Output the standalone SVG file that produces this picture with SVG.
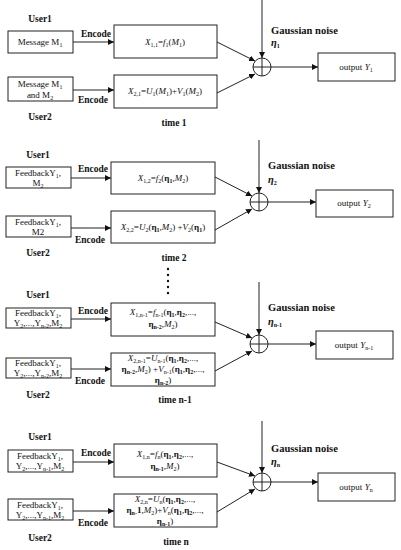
<svg xmlns="http://www.w3.org/2000/svg" width="401" height="550" viewBox="0 0 401 550">
<defs>
<marker id="ah" viewBox="0 0 10 10" refX="10" refY="5" markerWidth="6" markerHeight="6" orient="auto" markerUnits="userSpaceOnUse"><path d="M0,0 L10,5 L0,10 z" fill="#111"/></marker>
</defs>
<style>
.bx{fill:#fff;stroke:#222;stroke-width:1}
.ln{stroke:#222;stroke-width:1;fill:none;marker-end:url(#ah)}
.pl{stroke:#222;stroke-width:1;fill:none}
text{font-family:"Liberation Serif",serif;fill:#111}
.t{font-size:9px;text-anchor:middle}
.b{font-size:9.5px;font-weight:bold}
.u{font-size:9.5px;font-weight:bold;text-anchor:middle}
.g{font-size:10.5px;font-weight:bold}
.m{font-size:9px;text-anchor:middle}
.i{font-style:italic}
.e{font-weight:bold}
.s{font-size:6px;baseline-shift:-2px}
</style>
<rect width="401" height="550" fill="#fff"/>

<g id="connectors">
<line class="ln" x1="73" y1="42" x2="114" y2="42"/>
<line class="ln" x1="73" y1="90" x2="114" y2="90"/>
<line class="ln" x1="217" y1="42" x2="255" y2="61"/>
<line class="ln" x1="217" y1="93" x2="255" y2="74"/>
<line class="ln" x1="262" y1="0" x2="262" y2="58"/>
<line class="ln" x1="271" y1="67" x2="318" y2="67"/>
<line class="ln" x1="71" y1="178" x2="111" y2="178"/>
<line class="ln" x1="71" y1="228" x2="111" y2="228"/>
<line class="ln" x1="215" y1="177" x2="252" y2="196"/>
<line class="ln" x1="215" y1="230" x2="252" y2="209"/>
<line class="ln" x1="259" y1="140" x2="259" y2="193"/>
<line class="ln" x1="268" y1="202" x2="316" y2="202"/>
<line class="ln" x1="71" y1="319" x2="111" y2="319"/>
<line class="ln" x1="71" y1="369" x2="111" y2="369"/>
<line class="ln" x1="215" y1="322" x2="252" y2="338"/>
<line class="ln" x1="215" y1="371" x2="252" y2="351"/>
<line class="ln" x1="259" y1="282" x2="259" y2="335"/>
<line class="ln" x1="268" y1="344" x2="316" y2="344"/>
<line class="ln" x1="73" y1="462" x2="114" y2="462"/>
<line class="ln" x1="73" y1="511" x2="114" y2="511"/>
<line class="ln" x1="217" y1="462" x2="255" y2="476"/>
<line class="ln" x1="217" y1="512" x2="255" y2="489"/>
<line class="ln" x1="262" y1="421" x2="262" y2="473"/>
<line class="ln" x1="271" y1="482" x2="318" y2="482"/>
</g>

<g id="p1-user1">
<text class="u" x="40" y="22">User1</text>
<rect class="bx" x="8" y="31" width="65" height="22"/>
<text class="t" x="40" y="45">Message M<tspan class="s">1</tspan></text>
<text class="b" x="81" y="37">Encode</text>
</g>
<g id="p1-user2">
<rect class="bx" x="8" y="77" width="65" height="24"/>
<text class="t" x="40" y="87">Message M<tspan class="s">1</tspan></text>
<text class="t" x="40" y="98">and M<tspan class="s">2</tspan></text>
<text class="b" x="78" y="103">Encode</text>
<text class="u" x="40" y="120">User2</text>
</g>
<g id="p1-enc1">
<rect class="bx" x="114" y="25" width="103" height="33"/>
<text class="m" x="165" y="45"><tspan class="i">X</tspan><tspan class="s">1,1</tspan>=<tspan class="i">f</tspan><tspan class="s">1</tspan>(<tspan class="i">M</tspan><tspan class="s">1</tspan>)</text>
</g>
<g id="p1-enc2">
<rect class="bx" x="114" y="75" width="103" height="33"/>
<text class="m" x="165" y="94"><tspan class="i">X</tspan><tspan class="s">2,1</tspan>=<tspan class="i">U</tspan><tspan class="s">1</tspan>(<tspan class="i">M</tspan><tspan class="s">1</tspan>)+<tspan class="i">V</tspan><tspan class="s">1</tspan>(<tspan class="i">M</tspan><tspan class="s">2</tspan>)</text>
<text class="u" x="174" y="126">time 1</text>
</g>
<g id="p1-sum">
<circle cx="262" cy="67" r="9" fill="#fff" stroke="#222"/>
<line class="pl" x1="253" y1="67" x2="271" y2="67"/>
<line class="pl" x1="262" y1="58" x2="262" y2="76"/>
<text class="g" x="271" y="34">Gaussian noise</text>
<text class="g" x="271" y="46"><tspan class="i">η</tspan><tspan class="s">1</tspan></text>
</g>
<g id="p1-out">
<rect class="bx" x="318" y="53" width="77" height="28"/>
<text class="t" x="356" y="70">output <tspan class="i">Y</tspan><tspan class="s">1</tspan></text>
</g>

<g id="p2-user1">
<text class="u" x="38" y="158">User1</text>
<rect class="bx" x="6" y="167" width="65" height="21"/>
<text class="t" x="38" y="176">FeedbackY<tspan class="s">1</tspan>,</text>
<text class="t" x="38" y="186">M<tspan class="s">2</tspan></text>
<text class="b" x="78" y="172">Encode</text>
</g>
<g id="p2-user2">
<rect class="bx" x="6" y="216" width="65" height="21"/>
<text class="t" x="38" y="225">FeedbackY<tspan class="s">1</tspan>,</text>
<text class="t" x="38" y="235">M2</text>
<text class="b" x="75" y="243">Encode</text>
<text class="u" x="38" y="256">User2</text>
</g>
<g id="p2-enc1">
<rect class="bx" x="111" y="162" width="104" height="32"/>
<text class="m" x="163" y="181"><tspan class="i">X</tspan><tspan class="s">1,2</tspan>=<tspan class="i">f</tspan><tspan class="s">2</tspan>(<tspan class="e">η</tspan><tspan class="s e">1</tspan>,<tspan class="i">M</tspan><tspan class="s">2</tspan>)</text>
</g>
<g id="p2-enc2">
<rect class="bx" x="111" y="211" width="104" height="32"/>
<text class="m" x="163" y="230"><tspan class="i">X</tspan><tspan class="s">2,2</tspan>=<tspan class="i">U</tspan><tspan class="s">2</tspan>(<tspan class="e">η</tspan><tspan class="s e">1</tspan>,<tspan class="i">M</tspan><tspan class="s">2</tspan>) +<tspan class="i">V</tspan><tspan class="s">2</tspan>(<tspan class="e">η</tspan><tspan class="s e">1</tspan>)</text>
<text class="u" x="174" y="261">time 2</text>
</g>
<g id="p2-sum">
<circle cx="259" cy="202" r="9" fill="#fff" stroke="#222"/>
<line class="pl" x1="250" y1="202" x2="268" y2="202"/>
<line class="pl" x1="259" y1="193" x2="259" y2="211"/>
<text class="g" x="268" y="169">Gaussian noise</text>
<text class="g" x="268" y="183"><tspan class="i">η</tspan><tspan class="s">2</tspan></text>
</g>
<g id="p2-out">
<rect class="bx" x="316" y="190" width="77" height="27"/>
<text class="t" x="354" y="206">output <tspan class="i">Y</tspan><tspan class="s">2</tspan></text>
</g>

<g id="dots" fill="#111">
<circle cx="168" cy="269" r="1.2"/>
<circle cx="168" cy="275" r="1.2"/>
<circle cx="168" cy="281" r="1.2"/>
<circle cx="168" cy="287" r="1.2"/>
<circle cx="168" cy="293" r="1.2"/>
</g>

<g id="p3-user1">
<text class="u" x="38" y="298">User1</text>
<rect class="bx" x="6" y="308" width="65" height="20"/>
<text class="t" x="38" y="316">FeedbackY<tspan class="s">1</tspan>,</text>
<text class="t" x="38" y="326">Y<tspan class="s">2</tspan>,...,Y<tspan class="s">n-2</tspan>,M<tspan class="s">2</tspan></text>
<text class="b" x="78" y="314">Encode</text>
</g>
<g id="p3-user2">
<rect class="bx" x="6" y="358" width="65" height="20"/>
<text class="t" x="38" y="366">FeedbackY<tspan class="s">1</tspan>,</text>
<text class="t" x="38" y="376">Y<tspan class="s">2</tspan>,...,Y<tspan class="s">n-2</tspan>,M<tspan class="s">2</tspan></text>
<text class="b" x="75" y="384">Encode</text>
<text class="u" x="38" y="398">User2</text>
</g>
<g id="p3-enc1">
<rect class="bx" x="111" y="303" width="104" height="33"/>
<text class="m" x="163" y="315"><tspan class="i">X</tspan><tspan class="s">1,n-1</tspan>=<tspan class="i">f</tspan><tspan class="s">n-1</tspan>(<tspan class="e">η</tspan><tspan class="s e">1</tspan>,<tspan class="e">η</tspan><tspan class="s e">2</tspan>,...,</text>
<text class="m" x="163" y="327"><tspan class="e">η</tspan><tspan class="s e">n-2</tspan>,<tspan class="i">M</tspan><tspan class="s">2</tspan>)</text>
</g>
<g id="p3-enc2">
<rect class="bx" x="111" y="353" width="104" height="33"/>
<text class="m" x="163" y="361"><tspan class="i">X</tspan><tspan class="s">2,n-1</tspan>=<tspan class="i">U</tspan><tspan class="s">n-1</tspan>(<tspan class="e">η</tspan><tspan class="s e">1</tspan>,<tspan class="e">η</tspan><tspan class="s e">2</tspan>,...,</text>
<text class="m" x="163" y="372"><tspan class="e">η</tspan><tspan class="s e">n-2</tspan>,<tspan class="i">M</tspan><tspan class="s">2</tspan>) +<tspan class="i">V</tspan><tspan class="s">n-1</tspan>(<tspan class="e">η</tspan><tspan class="s e">1</tspan>,<tspan class="e">η</tspan><tspan class="s e">2</tspan>,...,</text>
<text class="m" x="163" y="383"><tspan class="e">η</tspan><tspan class="s e">n-2</tspan>)</text>
<text class="u" x="175" y="403">time n-1</text>
</g>
<g id="p3-sum">
<circle cx="259" cy="344" r="9" fill="#fff" stroke="#222"/>
<line class="pl" x1="250" y1="344" x2="268" y2="344"/>
<line class="pl" x1="259" y1="335" x2="259" y2="353"/>
<text class="g" x="268" y="311">Gaussian noise</text>
<text class="g" x="268" y="325"><tspan class="i">η</tspan><tspan class="s">n-1</tspan></text>
</g>
<g id="p3-out">
<rect class="bx" x="316" y="331" width="77" height="28"/>
<text class="t" x="354" y="348">output <tspan class="i">Y</tspan><tspan class="s">n-1</tspan></text>
</g>

<g id="p4-user1">
<text class="u" x="40" y="440">User1</text>
<rect class="bx" x="8" y="450" width="65" height="22"/>
<text class="t" x="40" y="459">FeedbackY<tspan class="s">1</tspan>,</text>
<text class="t" x="40" y="469">Y<tspan class="s">2</tspan>,...,Y<tspan class="s">n-1</tspan>,M<tspan class="s">2</tspan></text>
<text class="b" x="81" y="456">Encode</text>
</g>
<g id="p4-user2">
<rect class="bx" x="8" y="499" width="65" height="21"/>
<text class="t" x="40" y="508">FeedbackY<tspan class="s">1</tspan>,</text>
<text class="t" x="40" y="518">Y<tspan class="s">2</tspan>,...,Y<tspan class="s">n-1</tspan>,M<tspan class="s">2</tspan></text>
<text class="b" x="78" y="526">Encode</text>
<text class="u" x="40" y="541">User2</text>
</g>
<g id="p4-enc1">
<rect class="bx" x="114" y="444" width="103" height="33"/>
<text class="m" x="165" y="457"><tspan class="i">X</tspan><tspan class="s">1,n</tspan>=<tspan class="i">f</tspan><tspan class="s">n</tspan>(<tspan class="e">η</tspan><tspan class="s e">1</tspan>,<tspan class="e">η</tspan><tspan class="s e">2</tspan>,...,</text>
<text class="m" x="165" y="469"><tspan class="e">η</tspan><tspan class="s e">n-1</tspan>,<tspan class="i">M</tspan><tspan class="s">2</tspan>)</text>
</g>
<g id="p4-enc2">
<rect class="bx" x="114" y="494" width="103" height="33"/>
<text class="m" x="165" y="502"><tspan class="i">X</tspan><tspan class="s">2,n</tspan>=<tspan class="i">U</tspan><tspan class="s">n</tspan>(<tspan class="e">η</tspan><tspan class="s e">1</tspan>,<tspan class="e">η</tspan><tspan class="s e">2</tspan>,...,</text>
<text class="m" x="165" y="513"><tspan class="e">η</tspan><tspan class="s e">n-</tspan><tspan class="e">1</tspan>,<tspan class="i">M</tspan><tspan class="s">2</tspan>)+<tspan class="i">V</tspan><tspan class="s">n</tspan>(<tspan class="e">η</tspan><tspan class="s e">1</tspan>,<tspan class="e">η</tspan><tspan class="s e">2</tspan>,...,</text>
<text class="m" x="165" y="524"><tspan class="e">η</tspan><tspan class="s e">n-1</tspan>)</text>
<text class="u" x="176" y="545">time n</text>
</g>
<g id="p4-sum">
<circle cx="262" cy="482" r="9" fill="#fff" stroke="#222"/>
<line class="pl" x1="253" y1="482" x2="271" y2="482"/>
<line class="pl" x1="262" y1="473" x2="262" y2="491"/>
<text class="g" x="271" y="452">Gaussian noise</text>
<text class="g" x="271" y="465"><tspan class="i">η</tspan><tspan class="s">n</tspan></text>
</g>
<g id="p4-out">
<rect class="bx" x="318" y="473" width="77" height="28"/>
<text class="t" x="356" y="490">output <tspan class="i">Y</tspan><tspan class="s">n</tspan></text>
</g>
</svg>
